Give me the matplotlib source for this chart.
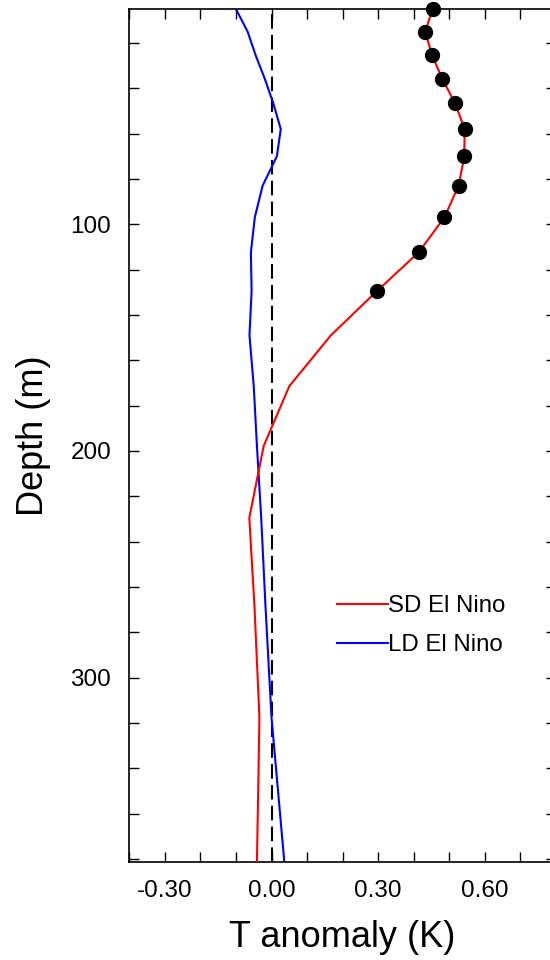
import matplotlib
matplotlib.use("Agg")
import matplotlib.pyplot as plt
from matplotlib.ticker import MultipleLocator, FormatStrFormatter

plt.rcParams['font.family'] = ['Liberation Sans', 'DejaVu Sans']

# model depth levels (m)
depth = [5.01, 15.07, 25.28, 35.76, 46.61, 57.98, 70.02, 82.92, 96.92, 112.32,
         129.49, 148.96, 171.4, 197.79, 229.48, 268.46, 317.65, 381.39]
# temperature anomaly (K)
sd_nino = [0.453, 0.432, 0.451, 0.480, 0.516, 0.543, 0.542, 0.526, 0.486, 0.414,
           0.296, 0.167, 0.050, -0.022, -0.0625, -0.048, -0.034, -0.041]
ld_nino = [-0.100, -0.067, -0.045, -0.019, 0.005, 0.026, 0.015, -0.025, -0.047, -0.058,
           -0.056, -0.062, -0.050, -0.041, -0.029, -0.017, 0.000, 0.036]
n_dots = 11  # significant levels marked with dots

fig = plt.figure(figsize=(5.5, 9.6), dpi=100)
ax = fig.add_axes([0.235, 0.102, 1.011 - 0.235, 0.9906 - 0.102])

ax.axvline(0, color="black", lw=1.5, linestyle=(0, (7, 3)), zorder=1)
ax.plot(sd_nino, depth, color="red", lw=1.5, label="SD El Nino", zorder=3)
ax.plot(ld_nino, depth, color="blue", lw=1.5, label="LD El Nino", zorder=2)
ax.plot(sd_nino[:n_dots], depth[:n_dots], "o", color="black", ms=10,
        clip_on=False, zorder=4)

ax.set_xlim(-0.4, 0.8)
ax.set_ylim(381.39, 5.01)

ax.xaxis.set_major_locator(MultipleLocator(0.3))
ax.xaxis.set_minor_locator(MultipleLocator(0.1))
ax.xaxis.set_major_formatter(FormatStrFormatter("%.2f"))
ax.yaxis.set_major_locator(MultipleLocator(100))
ax.yaxis.set_minor_locator(MultipleLocator(20))

ax.tick_params(which="both", direction="in", top=True, right=True,
               length=7.2, width=1.0, labelsize=17.5)
ax.tick_params(axis="x", pad=13)
ax.tick_params(axis="y", pad=13)
for s in ax.spines.values():
    s.set_linewidth(1.2)

ax.set_xlabel("T anomaly (K)", fontsize=26, labelpad=13)
ax.set_ylabel("Depth (m)", fontsize=26, labelpad=14)

ax.legend(loc="upper left", bbox_to_anchor=(0.487, 0.313), frameon=False,
          fontsize=17.3, handlelength=2.1, handletextpad=0.0, labelspacing=0.72,
          borderpad=0, borderaxespad=0)

fig.savefig("out.png", dpi=100)
